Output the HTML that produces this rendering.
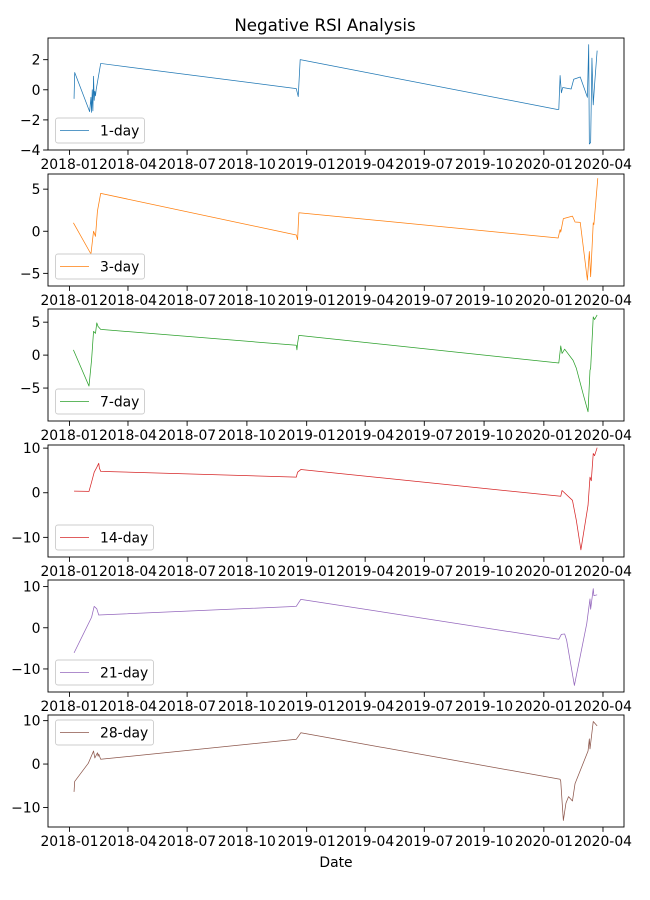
<!DOCTYPE html>
<html><head><meta charset="utf-8"><style>
html,body{margin:0;padding:0;background:#fff;}
svg{display:block;font-family:"DejaVu Sans","Liberation Sans",sans-serif;}
</style></head><body>
<svg id="chart" width="650" height="900" viewBox="0 0 650 900" xmlns="http://www.w3.org/2000/svg">
<text x="325" y="31" text-anchor="middle" font-size="16.7" fill="#000">Negative RSI Analysis</text>
<text x="336" y="867" text-anchor="middle" font-size="13.9" fill="#000">Date</text>
</svg>
<script>
// day offsets from 2018-01-01 and values per series
const labels = ["1-day","3-day","7-day","14-day","21-day","28-day"];
const colors = ["#1f77b4","#ff7f0e","#2ca02c","#d62728","#9467bd","#8c564b"];
const days1 = [7,8,31,33,34,35,36,37,38,39,40,41,48,349,350,352,355,750,753,755,757,759,772,776,786,797,799,800,802,804,806,808,812];
const vals1 = [-0.6,1.15,-1.45,-0.5,-1.5,0.0,-1.4,0.9,-0.7,-0.1,-0.4,0.0,1.75,0.08,-0.1,-0.45,2.0,-1.3,-1.3,0.95,-0.2,0.15,0.05,0.7,0.85,-0.5,3.0,-3.6,-3.5,2.1,-1.0,0.3,2.6];
const days3 = [6,33,37,40,43,48,349,351,353,752,755,756,760,774,778,786,797,800,802,806,807,813];
const vals3 = [1.0,-2.7,0,-0.6,2.4,4.5,-0.45,-1.0,2.2,-0.8,0.2,-0.1,1.5,1.8,1.1,1.05,-5.8,-2.4,-5.4,1.0,0.8,6.3];
const days7 = [6,30,34,37,40,42,44,48,349,350,351,353,753,756,758,762,775,780,791,798,801,802,806,808,812];
const vals7 = [0.8,-4.7,-0.7,3.6,3.3,4.9,4.35,3.9,1.5,0.8,1.8,3.0,-1.2,1.4,0.26,0.9,-0.8,-2.0,-6.1,-8.6,-2.3,-2.0,5.8,5.4,6.1];
const days14 = [7,30,34,38,42,45,46,48,349,351,356,756,758,774,780,787,798,801,803,806,808,812];
const vals14 = [0.35,0.3,2.4,4.6,5.7,6.6,5.5,4.8,3.5,4.6,5.2,-0.8,0.5,-1.7,-6.2,-12.8,-2.8,3.5,2.7,8.8,8.3,10.1];
const days21 = [7,34,38,42,45,349,356,753,757,762,765,777,796,801,802,806,807,812];
const vals21 = [-6.1,2.55,5.2,4.6,3.1,5.2,6.9,-2.8,-1.6,-1.5,-3.0,-14.0,1.0,7.0,4.5,9.5,7.8,8.0];
const days28 = [7,8,29,37,39,43,44,45,48,349,356,755,756,760,764,768,774,778,798,800,801,806,812];
const vals28 = [-6.4,-4.0,0.2,3.0,1.4,2.6,1.8,2.3,1.1,5.7,7.2,-3.5,-4.0,-13.0,-9.0,-7.5,-8.5,-4.5,3.0,5.8,3.5,9.8,8.8];
const yTicks1 = [-4,-2,0,2];
const yTicks3 = [-5,0,5];
const yTicks7 = [-5,0,5];
const yTicks14 = [-10,0,10];
const yTicks21 = [-10,0,10];
const yTicks28 = [-10,0,10];
const yLims = [[-4.0,3.44],[-6.5,6.8],[-10.0,7.0],[-14.4,10.7],[-15.6,11.6],[-14.5,11.3]];
const xTickLabels = ["2018-01","2018-04","2018-07","2018-10","2019-01","2019-04","2019-07","2019-10","2020-01","2020-04"];
const xTickDays = [0,90,181,273,365,455,546,638,730,821];

const allDays=[days1,days3,days7,days14,days21,days28];
const allVals=[vals1,vals3,vals7,vals14,vals21,vals28];
const allTicks=[yTicks1,yTicks3,yTicks7,yTicks14,yTicks21,yTicks28];
const tops=[38,174,309,445,580,715], H=112, L=48, R=624;
const NS="http://www.w3.org/2000/svg";
const svg=document.getElementById('chart');
const xScale=d=>69.5+d*0.6498;
function mk(tag,attrs,parent){const e=document.createElementNS(NS,tag);for(const k in attrs)e.setAttribute(k,attrs[k]);(parent||svg).appendChild(e);return e;}
for(let p=0;p<6;p++){
  const top=tops[p],bot=top+H,[y0,y1]=yLims[p];
  const yScale=v=>bot-(v-y0)/(y1-y0)*H;
  const g=mk('g',{});
  
  
  // series
  const pts=allDays[p].map((d,i)=>xScale(d).toFixed(2)+','+yScale(allVals[p][i]).toFixed(2)).join(' ');
  const line=mk('polyline',{points:pts,fill:'none',stroke:colors[p],'stroke-width':0.75,'stroke-linejoin':'round'},g);
  
  
  // frame
  const fr=mk('rect',{x:L,y:top,width:R-L,height:H,fill:'none',stroke:'#000','stroke-width':0.9},g);
  
  
  // y ticks
  allTicks[p].forEach(t=>{
    const y=yScale(t);
    mk('line',{x1:L-4.9,x2:L,y1:y,y2:y,stroke:'#000','stroke-width':0.9},g);
    const tx=mk('text',{x:L-7.5,y:y+5,'text-anchor':'end','font-size':13.9,fill:'#000'},g);
    tx.textContent=(t<0?'\u2212'+Math.abs(t):String(t));
    
    
  });
  // x ticks
  xTickDays.forEach((d,i)=>{
    const x=xScale(d);
    mk('line',{x1:x,x2:x,y1:bot,y2:bot+4.9,stroke:'#000','stroke-width':0.9},g);
    const tx=mk('text',{x:x,y:bot+19,'text-anchor':'middle','font-size':13.9,fill:'#000'},g);
    tx.textContent=xTickLabels[i];
    
    
  });
  // legend
  const lw=labels[p].length>5?98:89;
  const ly=p===5?top+5:bot-32;
  const lg=mk('g',{},g);
  
  
  mk('rect',{x:55.5,y:ly,width:lw,height:25,rx:2.5,fill:'#fff','fill-opacity':0.8,stroke:'#ccc','stroke-width':0.9},lg);
  mk('line',{x1:60,x2:89,y1:ly+12.5,y2:ly+12.5,stroke:colors[p],'stroke-width':0.75},lg);
  const lt=mk('text',{x:100,y:ly+17.5,'font-size':13.9,fill:'#000'},lg);
  lt.textContent=labels[p];
}
</script>
</body></html>
